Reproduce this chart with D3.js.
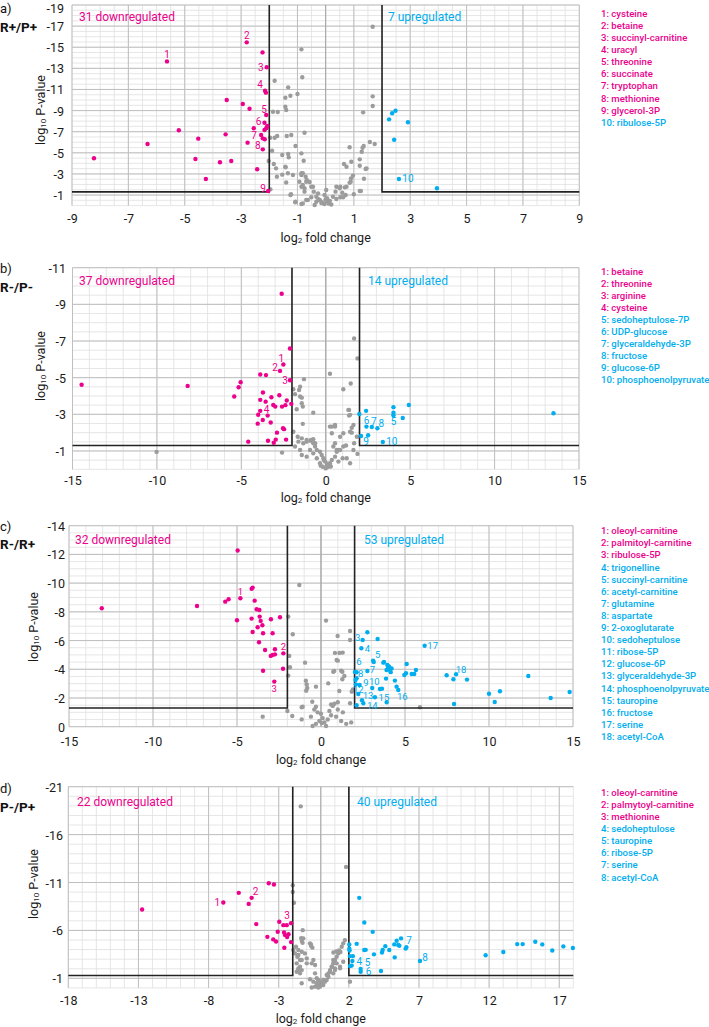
<!DOCTYPE html>
<html><head><meta charset="utf-8">
<script src="https://cdn.jsdelivr.net/npm/d3@7"></script>
<style>body{margin:0;background:#fff} svg text{font-family:Roboto,"Noto Sans",sans-serif}</style>
</head><body><svg id="c" width="709" height="1027"></svg>
<script>
// ---------------- DATA ----------------
// panel a: R+/P+
const grayA = [[-0.86,-14.8],[-0.83,-12.15],[-1.81,-11.83],[-1.33,-11.2],[-1.25,-10.41],[-1.43,-10.22],[-1.0,-10.57],[-1.43,-9.37],[-1.40,-9.05],[-1.87,-8.89],[-1.70,-8.86],[-0.75,-6.90],[-1.22,-6.69],[-1.38,-6.59],[-1.72,-6.59],[-1.81,-6.43],[-1.97,-6.43],[-1.07,-5.64],[-1.90,-5.20],[-0.86,-4.95],[-1.54,-4.79],[-1.33,-4.89],[-1.31,-4.57],[-0.78,-4.25],[-2.02,-4.22],[-1.84,-3.94],[-1.43,-3.68],[-1.73,-2.74],[-1.34,-3.06],[-1.16,-2.90],[-0.86,-2.90],[-0.81,-3.06],[-0.71,-2.74],[-0.67,-2.42],[-0.57,-2.23],[-0.45,-1.79],[-1.40,-2.19],[-0.93,-2.26],[-0.86,-1.79],[-0.75,-1.64],[-0.75,-1.32],[-0.42,-1.32],[-1.96,-1.54],[-1.25,-1.0],[-1.07,-0.37],[-0.86,-0.15],[-0.63,-0.53],[-0.33,-0.37],[-0.39,-0.06],
 [1.67,-16.94],[1.67,-10.35],[1.67,-9.43],[1.33,-8.83],[1.57,-6.02],[1.74,-5.83],[1.35,-5.64],[1.31,-5.48],[0.85,-5.52],[1.28,-5.10],[0.65,-3.94],[0.91,-4.16],[0.74,-3.68],[1.21,-4.38],[1.21,-3.78],[1.42,-3.47],[0.97,-2.84],[1.36,-2.55],[0.89,-2.26],[0.38,-1.79],[0.50,-1.64],[0.68,-1.73],[0.59,-1.22],[0.71,-1.0],[1.25,-1.38],[0.26,-0.84],[0.52,-0.79],[0.38,-0.63],[0.02,-1.48],[-0.04,-1.0],[-0.27,-1.16],[-0.33,-0.84],[-0.81,-1.95],[-0.69,-2.26],[-0.51,-1.79],[-0.86,-3.06],
 [-0.2,-0.5],[-0.1,-0.3],[0,-0.6],[0.1,-0.2],[0.15,-0.45],[-0.05,-0.15],[0.05,-0.7],[-0.15,-0.25],[0.2,-0.1],[-0.25,-0.6],[0.08,-0.38],
 [-1.76,-3.53],[-1.42,-3.63],[-1.54,-2.93],[-1.23,-1.07],[-1.08,-0.31],[-0.81,-0.21],[-0.69,-0.53],[-0.51,-0.79],[0.52,-1.79],[0.74,-1.79],[0.85,-2.17],[0.90,-2.58],[1.21,-1.38],[1.0,-1.07],[1.45,-3.53],[0.62,-0.79],[0.35,-1.32]];
const downA = [[-5.63,-13.66],[-2.80,-15.46],[-2.24,-14.51],[-2.09,-13.1],[-2.15,-10.88],[-2.12,-10.7],[-3.51,-10.0],[-2.94,-9.62],[-2.70,-9.18],[-2.11,-8.58],[-2.17,-7.85],[-2.07,-7.54],[-2.11,-7.32],[-2.17,-7.16],[-2.55,-7.32],[-5.21,-7.13],[-3.55,-6.75],[-2.29,-6.69],[-2.23,-6.37],[-2.16,-6.28],[-4.52,-6.34],[-6.32,-5.83],[-2.77,-5.96],[-2.23,-5.33],[-8.22,-4.48],[-4.62,-4.41],[-3.75,-4.10],[-3.35,-4.22],[-2.43,-3.44],[-4.25,-2.52],[-2.04,-1.38]];
const upA = [[2.25,-8.17],[2.36,-8.74],[2.48,-8.99],[2.92,-7.89],[2.43,-6.24],[2.60,-2.52],[3.95,-1.64]];
const labelsA = [[1,-5.63,-13.66],[2,-2.80,-15.46],[3,-2.09,-13.1],[4,-2.15,-10.88],[5,-2.11,-8.58],[6,-2.17,-7.85],[7,-2.29,-6.69],[8,-2.23,-5.33],[9,-2.04,-1.38],[10,2.60,-2.52]];
const legendA = ["1: cysteine","2: betaine","3: succinyl-carnitine","4: uracyl","5: threonine","6: succinate","7: tryptophan","8: methionine","9: glycerol-3P","10: ribulose-5P"];
const legendADown = 9;

// panel b: R-/P-
const grayB = [[-1.29,-4.92],[-1.92,-4.37],[-1.58,-4.33],[-1.82,-4.10],[-1.52,-3.97],[-1.42,-3.91],[-1.42,-3.61],[-1.36,-3.42],[-1.72,-3.28],[-0.74,-3.09],[-1.36,-2.48],[-1.92,-2.05],[-1.66,-1.78],[-1.42,-1.69],[-1.13,-1.60],[-0.89,-1.56],[-0.63,-1.42],[-1.82,-1.24],[-1.52,-1.05],[-2.59,-0.91],[-10.02,-0.95],
 [1.68,-7.14],[1.88,-6.05],[0.25,-5.21],[1.48,-4.68],[1.04,-4.37],[-1.52,-4.51],[1.38,-3.24],[1.38,-2.93],[0.25,-2.33],[0.55,-2.33],[1.54,-2.27],[1.54,-2.0],[0.65,-1.05],[1.04,-1.24],[1.88,-0.84],[-0.74,-1.64],
 [-0.53,-1.05],[-0.34,-0.96],[-0.24,-0.78],[-0.14,-0.60],[-0.04,-0.42],[0.06,-0.23],[0.15,-0.14],[-0.34,-0.33],[-0.18,-0.14],[0.25,-0.33],[0.36,-0.51],[0.55,-0.69],[0.65,-0.96],[0.75,-1.05],[0.45,-1.24],[0.55,-1.42],[0.85,-1.78],[1.04,-1.97],[1.44,-2.05],[1.64,-2.42],[0.36,-2.33],[0.55,-2.42],[1.34,-3.24],[1.44,-2.97],[0.36,-1.97],[0.85,-1.05],[0.75,-0.42],[1.24,-0.60],[1.44,-0.33],[1.64,-1.05],[1.68,-1.42],[1.84,-1.78],[-1.62,-1.51],[-1.33,-1.42],[-1.13,-1.51],[-0.87,-1.60],[-0.74,-1.42],[-0.63,-1.24],[-0.93,-1.05],[-0.74,-0.87],[-1.13,-0.69],[-1.42,-0.78],[-0.53,-0.60],
 [0.0,-0.05],[0.1,-0.3],[-0.1,-0.5],[0.3,-0.15],[-0.3,-0.2],[1.0,-0.6],[1.2,-1.3]];
const downB = [[-14.46,-4.61],[-8.18,-4.55],[-5.04,-4.75],[-5.16,-4.48],[-5.42,-3.97],[-2.61,-9.58],[-2.12,-6.59],[-2.51,-5.72],[-2.71,-5.37],[-2.12,-4.86],[-3.88,-5.17],[-3.54,-5.14],[-3.72,-4.19],[-3.88,-3.79],[-3.56,-3.69],[-3.22,-3.93],[-2.75,-4.04],[-2.31,-3.75],[-2.04,-3.57],[-3.11,-3.51],[-2.99,-3.42],[-2.59,-3.42],[-2.39,-3.50],[-3.88,-3.19],[-4.00,-2.98],[-3.44,-2.93],[-3.73,-2.69],[-3.26,-2.55],[-4.03,-2.49],[-2.53,-2.24],[-2.47,-2.19],[-2.89,-2.00],[-3.42,-1.56],[-2.96,-1.62],[-3.08,-1.45],[-2.35,-1.62],[-4.59,-1.51]];
const upB = [[1.99,-3.02],[2.39,-3.19],[4.01,-3.39],[4.01,-3.09],[4.92,-3.51],[4.56,-2.80],[13.49,-3.06],[2.41,-2.33],[2.73,-2.31],[3.06,-2.24],[2.09,-1.82],[2.51,-1.86],[3.38,-1.49],[4.01,-2.95]];
const labelsB = [[1,-2.51,-5.72],[2,-2.71,-5.37],[3,-2.12,-4.86],[4,-3.56,-3.69],[5,4.01,-2.95],[6,2.41,-2.33],[7,2.73,-2.31],[8,3.06,-2.24],[9,2.09,-1.82],[10,3.38,-1.49]];
const legendB = ["1: betaine","2: threonine","3: arginine","4: cysteine","5: sedoheptulose-7P","6: UDP-glucose","7: glyceraldehyde-3P","8: fructose","9: glucose-6P","10: phosphoenolpyruvate"];
const legendBDown = 4;

// panel c: R-/R+
const grayC = [[-1.29,-9.87],[-1.95,-7.67],[-1.68,-6.44],[-1.89,-4.93],[-1.85,-4.14],[-1.95,-3.56],[-0.95,-4.46],[-0.9,-3.2],[-0.85,-2.95],[-0.82,-2.7],[-0.88,-2.5],[-0.30,-2.79],[-0.52,-1.74],[-1.09,-1.39],[-0.30,-1.39],[-2.0,-1.09],[-1.71,-0.75],[-1.15,-0.51],[-3.47,-0.70],
 [0.30,-7.39],[0.99,-6.32],[1.73,-6.67],[1.73,-6.04],[0.83,-5.14],[1.1,-5.14],[1.29,-5.16],[0.93,-4.65],[1.0,-4.6],[0.79,-3.88],[1.2,-3.9],[1.27,-3.83],[1.27,-3.30],[0.43,-3.02],[1.09,-2.49],[1.83,-2.44],[1.9,-2.6],[0.6,-1.55],[0.8,-1.6],[1.0,-1.7],[0.7,-1.45],[1.73,-1.63],[-1.15,-1.35],[5.89,-1.35],[1.39,-3.53],[0.73,-3.83],
 [-0.4,-1.2],[-0.2,-1.0],[0.0,-0.9],[0.1,-0.6],[-0.1,-0.4],[0.2,-0.3],[-0.3,-0.2],[0.4,-0.5],[0.6,-0.8],[0.9,-0.7],[1.2,-0.4],[1.5,-0.2],[1.0,-1.2],[-0.5,-0.05],[0.3,-0.05],[0.5,-1.1],[-0.6,-0.7],[0.05,-0.25],[1.3,-1.0],[1.8,-0.3]];
const downC = [[-13.05,-8.25],[-7.38,-8.41],[-5.70,-8.71],[-5.50,-8.88],[-4.96,-12.27],[-4.80,-8.95],[-5.0,-7.41],[-4.13,-9.60],[-4.07,-9.69],[-3.95,-8.78],[-3.83,-8.18],[-3.67,-8.13],[-4.13,-7.53],[-3.65,-7.67],[-3.59,-7.37],[-3.49,-7.07],[-3.77,-6.93],[-4.07,-6.60],[-3.45,-6.51],[-2.98,-7.48],[-2.44,-7.62],[-2.88,-6.51],[-3.69,-5.88],[-3.33,-5.34],[-2.74,-5.39],[-2.99,-4.93],[-2.88,-5.00],[-2.74,-5.04],[-2.24,-5.11],[-3.45,-3.90],[-2.26,-4.04],[-2.78,-3.14]];
const upC = [[2.76,-6.58],[2.48,-6.04],[3.37,-6.11],[2.40,-5.46],[6.17,-5.64],[3.14,-4.51],[3.75,-4.51],[3.95,-4.3],[4.0,-4.1],[4.1,-3.95],[4.15,-3.8],[3.9,-3.95],[4.2,-4.05],[4.05,-4.2],[5.10,-4.37],[5.06,-3.72],[4.96,-3.60],[5.4,-3.67],[5.55,-3.67],[5.65,-3.95],[2.02,-3.81],[2.76,-3.88],[2.12,-3.37],[2.08,-2.95],[3.87,-3.35],[3.05,-2.70],[3.51,-2.63],[4.40,-3.21],[4.5,-2.79],[4.6,-2.56],[2.22,-2.28],[2.44,-1.84],[2.52,-1.63],[3.21,-2.05],[3.91,-1.70],[2.12,-1.49],[7.48,-3.58],[7.88,-3.30],[8.04,-3.65],[8.69,-3.28],[10.0,-2.30],[10.65,-2.47],[10.34,-1.72],[7.92,-1.58],[12.34,-3.53],[13.67,-2.0],[14.80,-2.42],[2.12,-3.79],[3.71,-4.46],[3.63,-2.65],[2.3,-2.9],[3.1,-4.6],[2.05,-3.25]];
const labelsC = [[1,-4.80,-8.95],[2,-2.24,-5.11],[3,-2.78,-3.14],[3,2.48,-6.04],[4,2.40,-5.46],[5,3.14,-4.51],[6,2.02,-3.81],[7,2.76,-3.88],[8,2.12,-3.37],[9,2.08,-2.95],[10,3.05,-2.70],[12,2.22,-2.28],[13,2.44,-1.84],[14,2.52,-1.63],[15,3.21,-2.05],[16,4.6,-2.56],[17,6.17,-5.64],[18,8.04,-3.65]];
const legendC = ["1: oleoyl-carnitine","2: palmitoyl-carnitine","3: ribulose-5P","4: trigonelline","5: succinyl-carnitine","6: acetyl-carnitine","7: glutamine","8: aspartate","9: 2-oxoglutarate","10: sedoheptulose","11: ribose-5P","12: glucose-6P","13: glyceraldehyde-3P","14: phosphoenolpyruvate","15: tauropine","16: fructose","17: serine","18: acetyl-CoA"];
const legendCDown = 3;

// panel d: P-/P+
const grayD = [[-1.43,-18.95],[-2.0,-10.72],[-2.0,-10.02],[-1.91,-8.88],[-1.29,-6.03],[-1.4,-5.2],[-1.35,-4.9],[-1.3,-4.7],[-0.70,-4.54],[-1.77,-4.29],[-1.60,-3.95],[-1.36,-3.77],[-1.13,-3.60],[-1.84,-3.60],[-1.67,-3.25],[-1.48,-2.91],[-1.0,-3.08],[-0.65,-2.56],[-0.41,-2.39],[-0.53,-2.91],[-1.60,-2.04],[-1.36,-1.86],[-1.72,-1.69],[-1.48,-1.52],[-0.77,-0.90],[-0.53,-0.65],[-0.29,-0.48],[-1.36,-0.48],[-0.18,-0.13],[-0.41,-0.13],
 [1.80,-12.63],[1.60,-4.65],[0.9,-3.7],[1.1,-3.8],[1.3,-3.9],[1.4,-3.75],[-0.70,-4.4],[-0.6,-4.2],[0.89,-2.91],[1.13,-2.56],[1.37,-2.21],[0.78,-2.21],[1.01,-2.04],[0.66,-1.69],[0.89,-1.52],[0.42,-1.34],[0.54,-1.17],[0.18,-0.82],[-0.06,-0.65],[0.06,-0.48],[-0.18,-0.30],
 [-1.96,-3.95],[-1.60,-3.43],[-1.36,-2.91],[-1.0,-2.56],[-1.72,-2.56],[-1.60,-1.86],[-1.48,-2.21],[-1.25,-5.17],[-0.77,-4.65],[0.54,-1.52],[0.66,-1.86],[0.78,-2.21],[0.89,-2.56],[1.01,-2.91],[1.13,-3.25],[1.25,-3.60],[1.49,-4.29],[1.72,-4.99],[1.01,-1.86],[1.37,-2.04],[1.60,-2.73],[-0.41,-1.52],[-0.29,-1.0],[-0.18,-0.82],[0.18,-0.30],[0.30,-0.65],[0.42,-0.82],[-0.06,-0.13],[-0.18,-0.04],[-0.65,-0.04],[2.08,-0.65]];
const downD = [[-12.74,-8.19],[-6.95,-8.92],[-5.85,-9.92],[-5.14,-8.77],[-4.93,-9.40],[-3.71,-10.93],[-3.34,-10.79],[-4.60,-6.66],[-2.96,-6.90],[-2.67,-6.55],[-2.43,-6.55],[-2.12,-6.76],[-3.07,-5.86],[-2.62,-5.79],[-2.55,-5.51],[-2.4,-5.3],[-2.3,-5.6],[-3.81,-5.33],[-3.39,-5.06],[-3.19,-4.85],[-2.12,-4.78],[-2.60,-4.19]];
const upD = [[2.74,-9.40],[3.10,-6.83],[3.70,-5.85],[2.03,-4.54],[2.03,-4.08],[2.56,-4.60],[3.1,-3.95],[3.2,-3.97],[2.07,-3.32],[2.29,-3.32],[2.25,-2.80],[2.08,-2.28],[2.2,-2.33],[2.84,-1.97],[2.84,-1.69],[4.29,-1.76],[3.79,-3.50],[4.36,-3.7],[4.41,-3.95],[4.60,-4.36],[4.88,-3.95],[5.24,-4.54],[5.41,-4.92],[5.72,-5.17],[5.52,-4.47],[5.6,-4.4],[5.27,-3.19],[6.05,-4.1],[6.1,-4.25],[7.07,-2.80],[11.75,-3.40],[13.01,-3.74],[14.0,-4.57],[14.39,-4.57],[15.29,-4.82],[15.79,-4.54],[16.50,-3.91],[17.29,-4.33],[17.97,-4.16],[2.05,-3.9]];
const labelsD = [[1,-6.95,-8.92],[2,-4.93,-9.40],[3,-2.12,-6.76],[4,2.25,-2.80],[5,2.84,-1.97],[6,2.84,-1.69],[7,5.72,-5.17],[8,7.07,-2.80]];
const legendD = ["1: oleoyl-carnitine","2: palmytoyl-carnitine","3: methionine","4: sedoheptulose","5: tauropine","6: ribose-5P","7: serine","8: acetyl-CoA"];
const legendDDown = 3;

const xTicksA = [-9,-7,-5,-3,-1,1,3,5,7,9];
const yTicksA = [-19,-17,-15,-13,-11,-9,-7,-5,-3,-1];
const xTicksB = [-15,-10,-5,0,5,10,15];
const yTicksB = [-11,-9,-7,-5,-3,-1];
const xTicksC = [-15,-10,-5,0,5,10,15];
const yTicksC = [-14,-12,-10,-8,-6,-4,-2,0];
const xTicksD = [-18,-13,-8,-3,2,7,12,17];
const yTicksD = [-21,-16,-11,-6,-1];
const pThreshold = -1.3, fcThreshold = 2;

// ---------------- DRAWING ----------------
const MAG = '#ec008c', CYA = '#00aeef', GRY = '#9c9c9c';
const svg = d3.select('#c');

function panel(cfg){
  const g = svg.append('g');
  const x = d3.scaleLinear().domain(cfg.xd).range([cfg.l, cfg.r]);
  const y = d3.scaleLinear().domain([0, cfg.ymin]).range([cfg.b, cfg.t]);
  const eps = 1e-6;
  const xm = d3.range(cfg.xd[0], cfg.xd[1] + eps, cfg.xminor);
  const ym = d3.range(0, cfg.ymin - eps, -cfg.yminor);
  const grid = g.append('g');
  grid.append('g').selectAll('line').data(xm).join('line').attr('x1', d => x(d)).attr('x2', d => x(d))
    .attr('y1', cfg.t).attr('y2', cfg.b).attr('stroke', '#e0e0e0').attr('stroke-width', 0.8);
  grid.append('g').selectAll('line').data(ym).join('line').attr('y1', d => y(d)).attr('y2', d => y(d))
    .attr('x1', cfg.l).attr('x2', cfg.r).attr('stroke', '#e0e0e0').attr('stroke-width', 0.8);
  grid.append('g').selectAll('line').data(cfg.xticks).join('line').attr('x1', d => x(d)).attr('x2', d => x(d))
    .attr('y1', cfg.t).attr('y2', cfg.b).attr('stroke', '#bfbfbf').attr('stroke-width', 1);
  grid.append('g').selectAll('line').data(cfg.yticks).join('line').attr('y1', d => y(d)).attr('y2', d => y(d))
    .attr('x1', cfg.l).attr('x2', cfg.r).attr('stroke', '#bfbfbf').attr('stroke-width', 1);
  grid.append('line').attr('x1', x(0)).attr('x2', x(0)).attr('y1', cfg.t).attr('y2', cfg.b)
    .attr('stroke', '#a5a5a5').attr('stroke-width', 1.1);

  // axes (labels only)
  const gx = g.append('g').attr('transform', `translate(0,${cfg.xtickY})`)
    .call(d3.axisBottom(x).tickValues(cfg.xticks).tickSize(0).tickFormat(d => String(d)));
  gx.select('.domain').remove();
  gx.attr('font-family', null).attr('font-size', 12.5);
  gx.selectAll('text').attr('y', 0).attr('dy', null).attr('dominant-baseline', 'central').attr('fill', '#1a1a1a');
  const gy = g.append('g').attr('transform', `translate(${cfg.ytickX},0)`)
    .call(d3.axisLeft(y).tickValues(cfg.yticks).tickSize(0).tickFormat(d => String(d)));
  gy.select('.domain').remove();
  gy.attr('font-family', null).attr('font-size', 12.5);
  // keep the topmost label inside the picture
  gy.selectAll('text').attr('x', 0).attr('dy', d => Math.max(0, 8 - y(d))).attr('dominant-baseline', 'central').attr('fill', '#1a1a1a');

  // points
  const dot = (data, col) => g.append('g').selectAll('circle').data(data).join('circle')
    .attr('cx', d => x(d[0])).attr('cy', d => y(d[1])).attr('r', 2.2).attr('fill', col);
  dot(cfg.gray, GRY);

  // threshold lines
  g.append('path')
    .attr('d', `M${cfg.l},${y(pThreshold)}H${x(-fcThreshold)}V${cfg.t}M${cfg.r},${y(pThreshold)}H${x(fcThreshold)}V${cfg.t}`)
    .attr('fill', 'none').attr('stroke', '#222').attr('stroke-width', 1.6);

  dot(cfg.down, MAG);
  dot(cfg.up, CYA);

  // numbered labels
  g.append('g').selectAll('text').data(cfg.labels).join('text')
    .attr('x', (d, i) => x(d[1]) + cfg.loff[i][0]).attr('y', (d, i) => y(d[2]) + cfg.loff[i][1])
    .attr('text-anchor', 'middle').attr('dominant-baseline', 'central').attr('font-size', cfg.lfs)
    .attr('fill', d => d[1] < 0 ? MAG : CYA).text(d => d[0]);

  // counts
  g.append('text').attr('x', cfg.downX).attr('y', cfg.countY).attr('dominant-baseline', 'central')
    .attr('font-size', 12).attr('fill', MAG).text(cfg.down.length + ' downregulated');
  g.append('text').attr('x', cfg.upX).attr('y', cfg.countY).attr('dominant-baseline', 'central')
    .attr('font-size', 12).attr('fill', CYA).text(cfg.up.length + ' upregulated');

  // axis titles
  const yl = g.append('text').attr('transform', `translate(${cfg.ylabX},${cfg.ylabY}) rotate(-90)`)
    .attr('text-anchor', 'middle').attr('dominant-baseline', 'central').attr('font-size', 12.5).attr('fill', '#1a1a1a');
  yl.append('tspan').text('log');
  yl.append('tspan').attr('font-size', 8).attr('dy', 3).text('10');
  yl.append('tspan').attr('dy', -3).text(' P-value');
  const xl = g.append('text').attr('x', x(0)).attr('y', cfg.xtitleY)
    .attr('text-anchor', 'middle').attr('dominant-baseline', 'central').attr('font-size', 12.5).attr('fill', '#1a1a1a');
  xl.append('tspan').text('log');
  xl.append('tspan').attr('font-size', 8).attr('dy', 3).text('2');
  xl.append('tspan').attr('dy', -3).text(' fold change');

  // panel letter & name
  g.append('text').attr('x', 0).attr('y', cfg.letterY).attr('dominant-baseline', 'central')
    .attr('font-size', 13).attr('fill', '#111').text(cfg.letter);
  g.append('text').attr('x', 0).attr('y', cfg.nameY).attr('dominant-baseline', 'central')
    .attr('font-size', 13.5).attr('font-weight', 'bold').attr('fill', '#111').text(cfg.name);

  // legend
  g.append('g').selectAll('text').data(cfg.legend).join('text')
    .attr('x', 601).attr('y', (d, i) => cfg.legY + i * 12.1).attr('dominant-baseline', 'central')
    .attr('font-size', 9.6).attr('font-weight', 500).attr('fill', (d, i) => i < cfg.legDown ? MAG : CYA).text(d => d);
}

panel({xd:[-9,9], l:72, r:579.3, ymin:-19, t:5, b:205.6, xminor:0.5, yminor:0.5,
  xticks:xTicksA, yticks:yTicksA, gray:grayA, down:downA, up:upA, labels:labelsA, lfs:10,
  loff:[[0,-7],[0,-7],[-6,0],[-5,-6],[-2,-6],[-6,-1],[-7,1],[-5,-4],[-5,-3],[9,0]],
  downX:79, upX:388, countY:16.7, xtickY:218.3, xtitleY:237.3, ytickX:64, ylabX:40, ylabY:110,
  letter:'a)', letterY:8.5, name:'R+/P+', nameY:26.5, legend:legendA, legDown:legendADown, legY:13.3});

panel({xd:[-15,15], l:72.5, r:579, ymin:-11, t:267.7, b:469.3, xminor:1, yminor:0.5,
  xticks:xTicksB, yticks:yTicksB, gray:grayB, down:downB, up:upB, labels:labelsB, lfs:10,
  loff:[[-2,-6],[-5,-3],[-5,0],[1,8],[0,6],[0,-6],[2,-5],[4,-5],[5,6],[9,0]],
  downX:79, upX:368, countY:280.7, xtickY:480, xtitleY:497, ytickX:66, ylabX:40, ylabY:366,
  letter:'b)', letterY:268, name:'R-/P-', nameY:287, legend:legendB, legDown:legendBDown, legY:271});

panel({xd:[-15,15], l:69, r:573, ymin:-14, t:525.7, b:726.7, xminor:1, yminor:0.5,
  xticks:xTicksC, yticks:yTicksC, gray:grayC, down:downC, up:upC, labels:labelsC, lfs:9.5,
  loff:[[0,-7],[0,-7],[0,7],[-5,-2],[6,0],[4,-7],[4,-10],[5,-1],[4,-5],[10,-2],[2,-6],[0,-4],[6,-5],[9,2],[9,0],[4,7],[8,0],[5,-5]],
  downX:75, upX:364, countY:540, xtickY:741, xtitleY:759, ytickX:65, ylabX:33, ylabY:627,
  letter:'c)', letterY:526.7, name:'R-/R+', nameY:544, legend:legendC, legDown:legendCDown, legY:530.7});

panel({xd:[-18,18], l:68.3, r:573.3, ymin:-21, t:786.7, b:987.9, xminor:1, yminor:1,
  xticks:xTicksD, yticks:yTicksD, gray:grayD, down:downD, up:upD, labels:labelsD, lfs:10,
  loff:[[-6,0],[4,-6],[-4,-8],[7,0],[7,-7],[8,0],[8,2],[5,-4]],
  downX:77, upX:357, countY:802, xtickY:1000, xtitleY:1018, ytickX:63, ylabX:33, ylabY:884,
  letter:'d)', letterY:788, name:'P-/P+', nameY:806.7, legend:legendD, legDown:legendDDown, legY:792.3});
</script></body></html>
